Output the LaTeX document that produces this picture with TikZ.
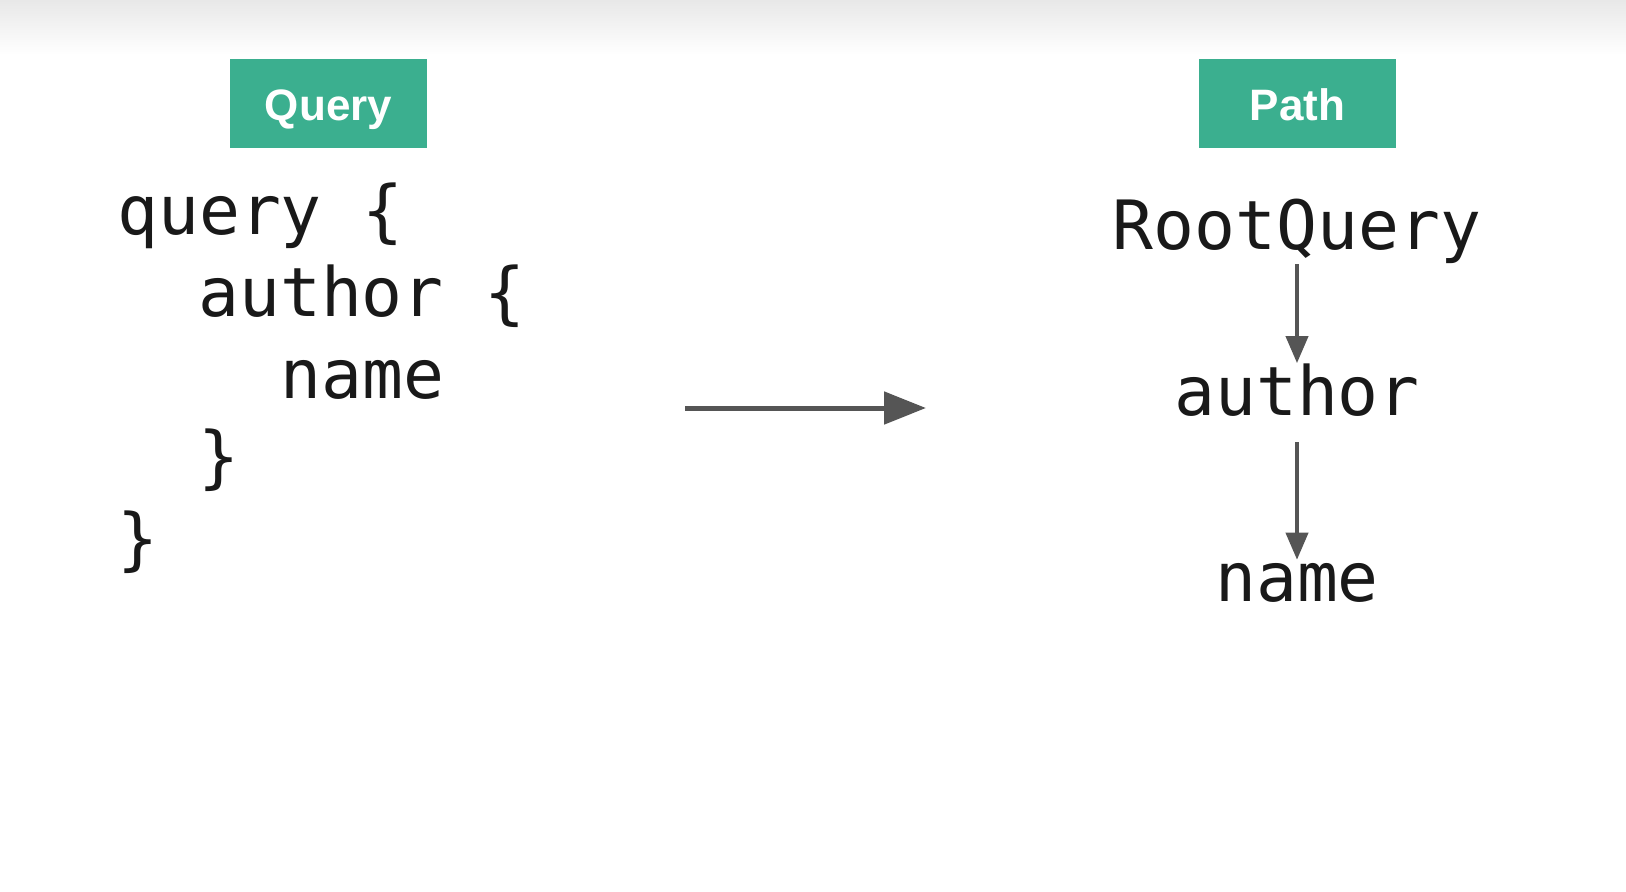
\documentclass[tikz,border=0pt]{standalone}
\usepackage{fontspec}
\usetikzlibrary{arrows.meta}
\newfontfamily\codefont{DejaVu Sans Mono}
\newfontfamily\tagfont{Liberation Sans}
\definecolor{tagteal}{RGB}{59,175,143}
\definecolor{arrowgray}{RGB}{85,85,85}
\tikzset{
  tagbox/.style={fill=tagteal, text=white, minimum width=197pt, minimum height=89pt,
    inner sep=0pt, text height=33pt, text depth=0pt,
    font=\tagfont\bfseries\fontsize{44}{50}\selectfont},
  codeline/.style={anchor=base west, inner sep=0pt, text=black!90,
    font=\codefont\fontsize{68}{82}\selectfont},
  pathnode/.style={anchor=base, inner sep=0pt, text=black!90,
    font=\codefont\fontsize{68}{82}\selectfont},
  conn/.style={draw=arrowgray, line width=4pt, -{Triangle[length=27pt,width=22pt]}}
}
\begin{document}
\begin{tikzpicture}[x=1pt, y=-1pt]
	\useasboundingbox (0,0) rectangle (1626,892);
	\shade[top color=black!9, bottom color=white] (0,0) rectangle (1626,55);
		% headings
		\node[tagbox] (qtag) at (328.5,103.5) {Query};
		\node[tagbox] (ptag) at (1297.5,103.5) {Path};

		% the query
		\node[codeline] (q1) at (117,234) {query \{};
		\node[codeline] (q2) at (198,316) {author \{};
		\node[codeline] (q3) at (280,398) {name};
		\node[codeline] (q4) at (198,480) {\}};
		\node[codeline] (q5) at (117,562) {\}};

		% the path
		\node[pathnode] (root) at (1297,249) {RootQuery};
		\node[pathnode] (author) at (1297,415) {author};
		\node[pathnode] (name) at (1297,601) {name};

		\coordinate (from) at (685,408);
		\coordinate (to) at (926,408);
		\draw[draw=arrowgray, line width=5pt, -{Triangle[length=42pt,width=32pt]}] (from) -- (to);
		\draw[conn, shorten <=1pt] (root) -- (author);
		\draw[conn, shorten <=26pt, shorten >=3pt] (author.south) -- (name.north);
	\end{tikzpicture}
\end{document}
